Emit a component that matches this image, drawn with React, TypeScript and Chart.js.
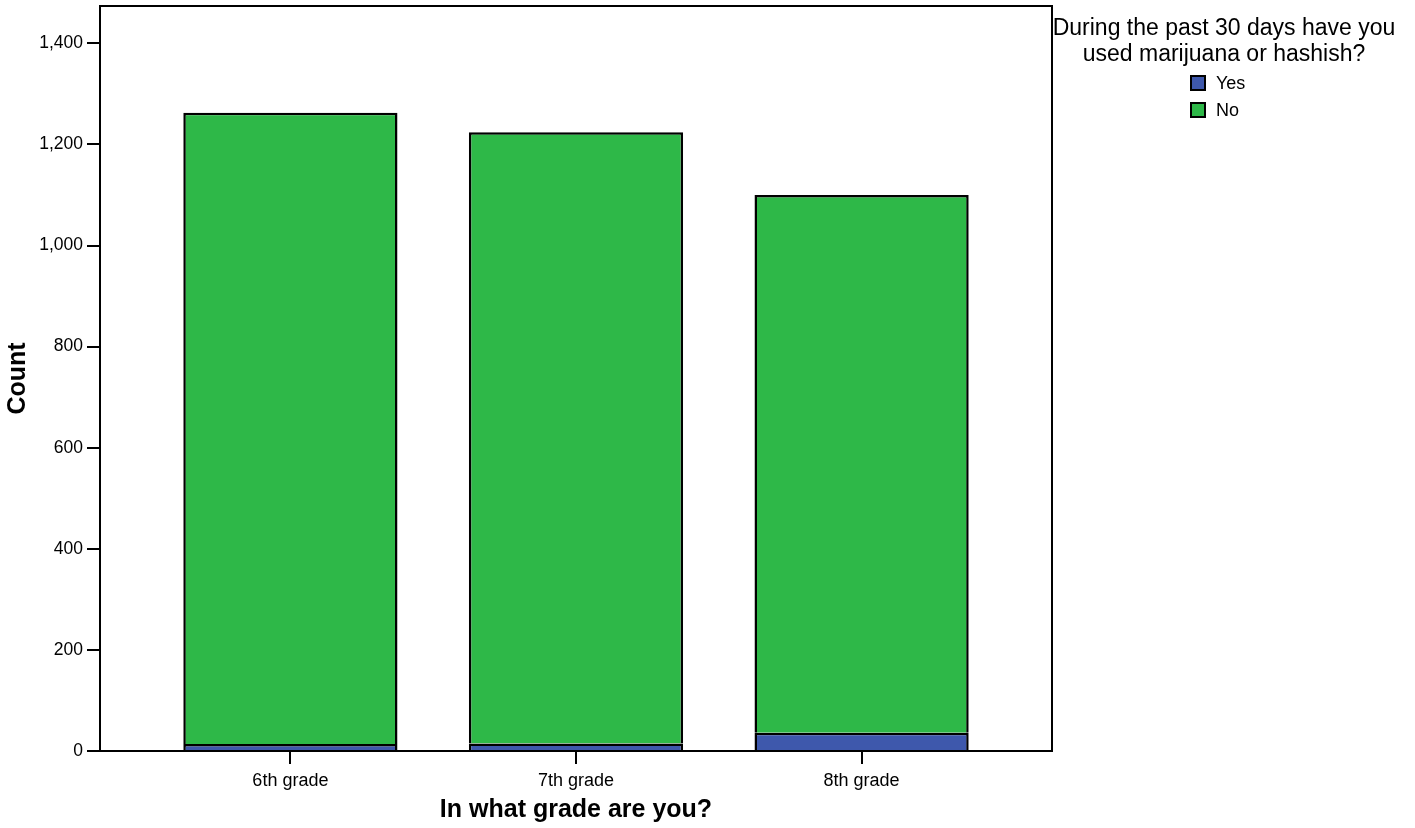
import React, { useEffect, useRef } from "react";
import { Chart, registerables } from "chart.js";

Chart.register(...registerables);

const categories = ["6th grade", "7th grade", "8th grade"];
const yesValues = [14, 15, 36];
const noValues = [1249, 1209, 1064];
const yTicks = [0, 200, 400, 600, 800, 1000, 1200, 1400];
const seriesNames = ["Yes", "No"];
const seriesColors = ["#3E58AC", "#2EB848"];
const legendTitle = ["During the past 30 days have you", "used marijuana or hashish?"];
const xTitle = "In what grade are you?";
const yTitle = "Count";

const FONT = "'Liberation Sans', Arial, Helvetica, sans-serif";

const framePlugin = {
  id: "frame",
  afterDraw(chart: any) {
    const { ctx, chartArea } = chart;
    ctx.save();
    ctx.strokeStyle = "#000";
    ctx.lineWidth = 2;
    ctx.strokeRect(chartArea.left, chartArea.top, chartArea.right - chartArea.left, chartArea.bottom - chartArea.top);
    ctx.restore();

    // legend
    ctx.save();
    ctx.fillStyle = "#000";
    ctx.font = `23px ${FONT}`;
    ctx.textAlign = "center";
    ctx.textBaseline = "alphabetic";
    const cx = 1224;
    ctx.fillText(legendTitle[0], cx, 35);
    ctx.fillText(legendTitle[1], cx, 61);
    ctx.font = `18px ${FONT}`;
    ctx.textAlign = "left";
    const rows = [
      { boxTop: 76, base: 89 },
      { boxTop: 103, base: 116 },
    ];
    seriesNames.forEach((name, i) => {
      const r = rows[i];
      ctx.fillStyle = seriesColors[i];
      ctx.fillRect(1191, r.boxTop, 14, 14);
      ctx.strokeStyle = "#000";
      ctx.lineWidth = 2;
      ctx.strokeRect(1191, r.boxTop, 14, 14);
      ctx.fillStyle = "#000";
      ctx.fillText(name, 1216, r.base);
    });
    ctx.restore();
  },
};

export default function App() {
  const ref = useRef<HTMLCanvasElement>(null);

  useEffect(() => {
    if (!ref.current) return;
    const datasets = seriesNames.map((name, i) => ({
      label: name,
      data: (i === 0 ? yesValues : noValues).map((v, idx) => ({ x: idx, y: v })),
      backgroundColor: seriesColors[i],
      borderColor: "#000",
      borderWidth: 2.5,
      borderSkipped: "bottom" as any,
      barPercentage: 0.75,
      categoryPercentage: 1,
    }));

    const chart = new Chart(ref.current, {
      type: "bar",
      data: { datasets },
      plugins: [framePlugin],
      options: {
        responsive: false,
        animation: false,
        devicePixelRatio: 1,
        layout: { padding: { top: 6, right: 363, left: 0, bottom: 0 } },
        plugins: {
          legend: { display: false },
          tooltip: { enabled: false },
        },
        scales: {
          x: {
            type: "linear",
            stacked: true,
            offset: false,
            min: -2 / 3,
            max: 8 / 3,
            afterBuildTicks: (scale: any) => {
              scale.ticks = categories.map((_, i) => ({ value: i }));
            },
            afterFit: (scale: any) => {
              scale.height = 77;
              scale.paddingLeft = 0;
              scale.paddingRight = 0;
            },
            border: { display: false },
            grid: {
              offset: false,
              drawOnChartArea: false,
              drawTicks: true,
              tickLength: 13,
              color: "#000",
              lineWidth: 2,
            },
            ticks: {
              color: "#000",
              font: { family: FONT, size: 18 },
              padding: 6,
              autoSkip: false,
              maxRotation: 0,
              callback: (v: any) => categories[Math.round(Number(v))] ?? "",
            },
            title: {
              display: true,
              text: xTitle,
              color: "#000",
              font: { family: FONT, size: 25, weight: "bold" },
              padding: { top: 0, bottom: 3 },
            },
          },
          y: {
            type: "linear",
            stacked: true,
            min: 0,
            max: 1474,
            afterBuildTicks: (scale: any) => {
              scale.ticks = yTicks.map((v) => ({ value: v }));
            },
            afterFit: (scale: any) => {
              scale.width = 100;
              scale.paddingTop = 0;
              scale.paddingBottom = 0;
            },
            border: { display: false },
            grid: {
              drawOnChartArea: false,
              drawTicks: true,
              tickLength: 13,
              color: "#000",
              lineWidth: 2,
            },
            ticks: {
              color: "#000",
              font: { family: FONT, size: 17.5 },
              padding: 4,
              callback: (v: any) => Number(v).toLocaleString("en-US"),
            },
            title: {
              display: true,
              text: yTitle,
              color: "#000",
              font: { family: FONT, size: 25, weight: "bold" },
              padding: { top: 3, bottom: 0 },
            },
          },
        },
      } as any,
    });
    return () => chart.destroy();
  }, []);

  return (
    <div style={{ position: "fixed", left: 0, top: 0, width: 1415, height: 828, background: "#fff" }}>
      <canvas ref={ref} width={1415} height={828} style={{ display: "block", width: 1415, height: 828 }} />
    </div>
  );
}
